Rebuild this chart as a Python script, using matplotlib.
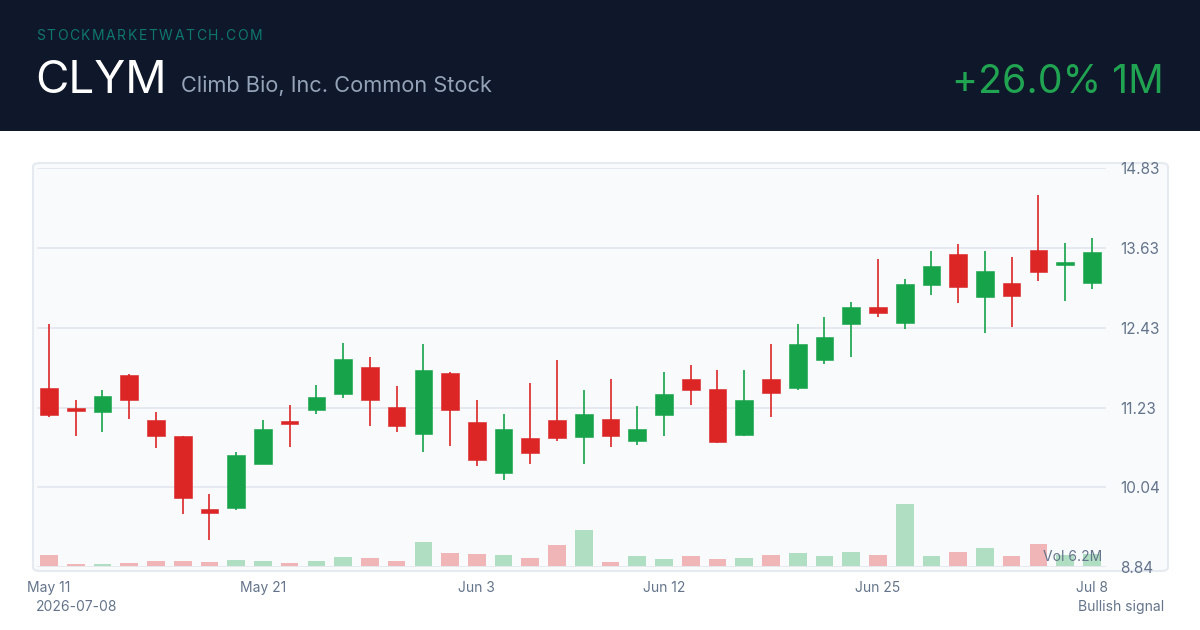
import matplotlib
matplotlib.use("Agg")
import matplotlib.pyplot as plt
from matplotlib.patches import FancyBboxPatch, Rectangle

plt.rcParams['font.family'] = ['Inter', 'DejaVu Sans']

# ---- data ----
opens = [11.52, 11.22, 11.17, 11.72, 11.04, 10.80, 9.71, 9.72, 10.39, 11.01,
         11.19, 11.44, 11.85, 11.24, 10.83, 11.75, 11.01, 10.25, 10.77, 11.05,
         10.79, 11.06, 10.73, 11.12, 11.66, 11.51, 10.82, 11.66, 11.52, 11.95,
         12.49, 12.75, 12.51, 13.08, 13.54, 12.90, 13.10, 13.60, 13.37, 13.11]
highs = [12.49, 11.34, 11.50, 11.74, 11.17, 10.80, 9.93, 10.57, 11.04, 11.27,
         11.57, 12.21, 12.00, 11.56, 12.19, 11.76, 11.34, 11.14, 11.60, 11.95,
         11.49, 11.66, 11.25, 11.77, 11.87, 11.80, 11.80, 12.19, 12.49, 12.59,
         12.82, 13.47, 13.17, 13.59, 13.69, 13.59, 13.49, 14.43, 13.71, 13.78]
lows = [11.09, 10.80, 10.86, 11.06, 10.62, 9.63, 9.25, 9.70, 10.38, 10.64,
        11.14, 11.38, 10.95, 10.86, 10.56, 10.65, 10.36, 10.15, 10.39, 10.73,
        10.38, 10.64, 10.67, 10.81, 11.27, 10.70, 10.81, 11.09, 11.50, 11.89,
        12.00, 12.60, 12.42, 12.92, 12.80, 12.35, 12.44, 13.13, 12.84, 13.01]
closes = [11.12, 11.18, 11.41, 11.34, 10.80, 9.88, 9.65, 10.52, 10.91, 10.99,
          11.39, 11.96, 11.35, 10.96, 11.80, 11.20, 10.44, 10.91, 10.55, 10.77,
          11.14, 10.80, 10.91, 11.44, 11.50, 10.71, 11.34, 11.45, 12.19, 12.30,
          12.75, 12.66, 13.09, 13.36, 13.04, 13.29, 12.91, 13.27, 13.42, 13.57]
volumes_m = [1.18, 0.26, 0.32, 0.39, 0.59, 0.59, 0.46, 0.66, 0.56, 0.42,
             0.62, 0.98, 0.88, 0.56, 2.45, 1.37, 1.27, 1.18, 0.91, 2.18,
             3.65, 0.52, 1.08, 0.81, 1.11, 0.81, 0.85, 1.18, 1.40, 1.11,
             1.50, 1.15, 6.20, 1.11, 1.50, 1.89, 1.11, 2.25, 1.18, 1.27]
x_tick_positions = [0, 8, 16, 23, 31, 39]
x_tick_labels = ["May 11", "May 21", "Jun 3", "Jun 12", "Jun 25", "Jul 8"]
y_ticks = [8.84, 10.04, 11.23, 12.43, 13.63, 14.83]

ticker = "CLYM"
company = "Climb Bio, Inc. Common Stock"
site = "STOCKMARKETWATCH.COM"
change_text = "+26.0% 1M"
date_text = "2026-07-08"
signal_text = "Bullish signal"
vol_label = "Vol 6.2M"

# ---- style ----
W, H = 1200, 630
GREEN = "#16a34a"
RED = "#dc2626"
HEADER_BG = "#0f172a"
PANEL_BG = "#f8fafc"
GRID = "#e6e9ef"
MUTED = "#64748b"

fig = plt.figure(figsize=(W / 100, H / 100), dpi=100)
fig.patch.set_facecolor("white")


def fx(px):
    return px / W


def fy(py):
    return 1 - py / H


# header
fig.patches.append(Rectangle((0, fy(131)), 1, 131 / H, transform=fig.transFigure,
                             facecolor=HEADER_BG, edgecolor="none", zorder=-2))

# letter-spaced site name
renderer = fig.canvas.get_renderer()
widths = []
for ch in site:
    t = fig.text(0, 0, ch, fontsize=10)
    widths.append(t.get_window_extent(renderer).width if ch.strip() else 4)
    t.remove()
total_target = 262 - 36
gap = (total_target - sum(widths)) / (len(site) - 1)
xpos = 36
for ch, w in zip(site, widths):
    fig.text(fx(xpos), fy(40), ch, fontsize=10, color="#0f766e", va="baseline", ha="left")
    xpos += w + gap

fig.text(fx(35), fy(93), ticker, fontsize=33, color="white", va="baseline", ha="left")
fig.text(fx(181), fy(92), company, fontsize=15.7, color="#94a3b8", va="baseline", ha="left")
fig.text(fx(1164), fy(93), change_text, fontsize=28.3, color="#21a452", va="baseline", ha="right")

# panel
panel = FancyBboxPatch((fx(33), fy(571)), fx(1168 - 33), (571 - 163) / H,
                       boxstyle="round,pad=0,rounding_size=0.006",
                       transform=fig.transFigure, facecolor=PANEL_BG,
                       edgecolor="#e5e9f0", linewidth=1.5, zorder=-1)
fig.patches.append(panel)

# axes geometry
left_px, right_px = 37, 1106
top_px, bot_px = 168, 567
pos = [fx(left_px), fy(bot_px), fx(right_px - left_px), (bot_px - top_px) / H]

step = 26.74
x0 = 49
xmin = (left_px - x0) / step
xmax = (right_px - x0) / step

ax_vol = fig.add_axes(pos)
ax = fig.add_axes(pos, sharex=ax_vol)
for a in (ax_vol, ax):
    a.set_facecolor("none")
    for s in a.spines.values():
        s.set_visible(False)

n = len(opens)
xs = list(range(n))
colors = [GREEN if c >= o else RED for o, c in zip(opens, closes)]

# volume
ax_vol.bar(xs, volumes_m, width=0.66, color=colors, alpha=0.32, linewidth=0, zorder=1)
ax_vol.set_ylim(0, max(volumes_m) * 399 / 63.3)
ax_vol.set_yticks([])
ax_vol.tick_params(axis="x", length=0)

# price grid
ax.set_ylim(8.84, 14.83)
ax.set_xlim(xmin, xmax)
for yv in y_ticks:
    ax.axhline(yv, color=GRID, linewidth=1.4, zorder=0)
ax.set_yticks(y_ticks)
ax.yaxis.tick_right()
ax.set_yticklabels([f"{v:.2f}" for v in y_ticks])
ax.tick_params(axis="y", length=0, pad=10, labelsize=11, labelcolor=MUTED)
ax.set_xticks(x_tick_positions)
ax.set_xticklabels(x_tick_labels)
ax.tick_params(axis="x", length=0, pad=10, labelsize=10, labelcolor=MUTED)
plt.setp(ax_vol.get_xticklabels(), visible=False)

# candles
bw = 0.66
for i in xs:
    o, h, l, c = opens[i], highs[i], lows[i], closes[i]
    col = colors[i]
    ax.vlines(i, l, h, color=col, linewidth=1.2, zorder=2)
    lo, hi = min(o, c), max(o, c)
    hgt = max(hi - lo, 0.04)
    ax.add_patch(Rectangle((i - bw / 2, lo), bw, hgt, facecolor=col,
                           edgecolor=col, linewidth=0.4, zorder=3))

ax.text((1102 - left_px) / (right_px - left_px), (bot_px - 557) / (bot_px - top_px),
        vol_label, transform=ax.transAxes, ha="right", va="center",
        fontsize=10, color=MUTED, zorder=5)

# footer
fig.text(fx(36), fy(607), date_text, fontsize=10, color=MUTED, va="center", ha="left")
fig.text(fx(1164), fy(607), signal_text, fontsize=10, color=MUTED, va="center", ha="right")

fig.savefig("out.png", dpi=100, facecolor="white")
